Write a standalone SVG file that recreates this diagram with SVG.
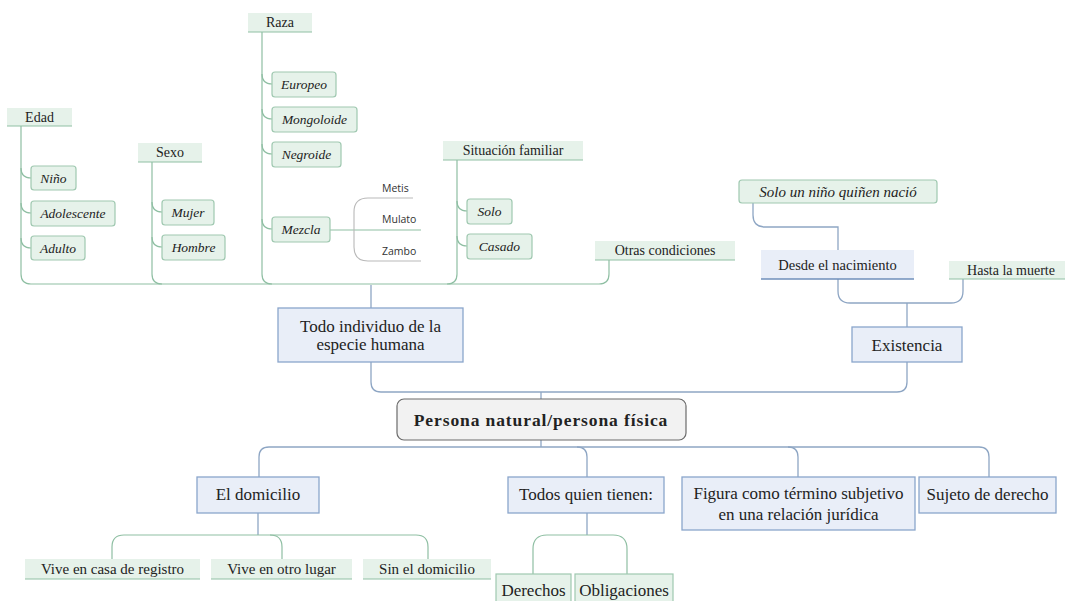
<svg xmlns="http://www.w3.org/2000/svg" width="1065" height="601" viewBox="0 0 1065 601" font-family="'Liberation Serif', 'Times New Roman', serif">
<style>
.hd{font-family:"Liberation Serif","Times New Roman",serif;font-size:14px;text-anchor:middle;fill:#222;}
.hd2{font-family:"Liberation Serif","Times New Roman",serif;font-size:15px;text-anchor:middle;fill:#222;}
.it{font-family:"Liberation Serif","Times New Roman",serif;font-size:13.5px;font-style:italic;text-anchor:middle;fill:#222;}
.sm{font-family:"Open Sans","Noto Sans",sans-serif;font-size:10.5px;fill:#333;}
.big{font-family:"Liberation Serif","Times New Roman",serif;font-size:17px;text-anchor:middle;fill:#222;}
.bold{font-family:"Liberation Serif","Times New Roman",serif;font-size:17.5px;font-weight:bold;text-anchor:middle;letter-spacing:0.9px;fill:#222;}
.gfill{fill:#e6f2ea;}
.gline{stroke:#8fbfa3;stroke-width:1.2;fill:none;}
.gbox{fill:#e6f2ea;stroke:#9fc8b0;stroke-width:1.2;}
.bbox{fill:#e9eef8;stroke:#8aa6cb;stroke-width:1.3;}
.bfill{fill:#e9eef8;}
.bline{stroke:#8ea6c4;stroke-width:1.3;fill:none;}
.cline{stroke:#b9b9b9;stroke-width:1.1;fill:none;}
</style>
<rect width="1065" height="601" fill="#ffffff"/>
<g id="connectors">
<path class="gline" d="M21,126 V274 Q21,284 31,284 H599 Q609,284 609,274 V260"/>
<path class="gline" d="M152,162 V274 Q152,284 162,284"/>
<path class="gline" d="M262,32 V274 Q262,284 272,284"/>
<path class="gline" d="M457,160 V274 Q457,284 447,284"/>
<path class="gline" d="M21,168 Q21,178 31,178"/>
<path class="gline" d="M21,203 Q21,213 31,213"/>
<path class="gline" d="M21,238 Q21,248 31,248"/>
<path class="gline" d="M152,202 Q152,212 162,212"/>
<path class="gline" d="M152,237 Q152,247 162,247"/>
<path class="gline" d="M262,74 Q262,84 272,84"/>
<path class="gline" d="M262,109 Q262,119 272,119"/>
<path class="gline" d="M262,144 Q262,154 272,154"/>
<path class="gline" d="M262,219 Q262,229 272,229"/>
<path class="gline" d="M457,201 Q457,211 467,211"/>
<path class="gline" d="M457,236 Q457,246 467,246"/>
<path class="gline" d="M330,230 H421"/>
<path class="cline" d="M413,198 H368 Q354,198 354,212 V247 Q354,261 368,261 H421"/>
<path class="bline" d="M371,285 V308"/>
<path class="bline" d="M838,250 V227 H765 Q753,227 753,215 V203"/>
<path class="bline" d="M838,279 V291 Q838,303 850,303 H951 Q963,303 963,291 V279"/>
<path class="bline" d="M907,303 V327"/>
<path class="bline" d="M371,362 V382 Q371,392 381,392 H897 Q907,392 907,382 V362"/>
<path class="bline" d="M541,392 V399"/>
<path class="bline" d="M541,440 V447"/>
<path class="bline" d="M259,477 V457 Q259,447 269,447 H979 Q989,447 989,457 V477"/>
<path class="bline" d="M577,447 Q587,447 587,457 V477"/>
<path class="bline" d="M788,447 Q798,447 798,457 V477"/>
<path class="bline" d="M258,513 V535"/>
<path class="gline" d="M112,559 V547 Q112,535 124,535 H416 Q428,535 428,547 V559"/>
<path class="gline" d="M282,559 V547 Q282,535 270,535"/>
<path class="bline" d="M587,513 V535"/>
<path class="gline" d="M533,574 V549 Q533,535 547,535 H613 Q627,535 627,549 V574"/>
</g>
<g id="edad"><rect class="gfill" x="7" y="108" width="65" height="18"/><path class="gline" d="M7,126 H72"/><text class="hd" x="39.5" y="122">Edad</text></g>
<g id="nino"><rect class="gbox" x="31" y="166" width="45" height="24" rx="3"/><text class="it" x="53.5" y="183">Niño</text></g>
<g id="adolescente"><rect class="gbox" x="31" y="201" width="84" height="25" rx="3"/><text class="it" x="73" y="218">Adolescente</text></g>
<g id="adulto"><rect class="gbox" x="31" y="236" width="54" height="24" rx="3"/><text class="it" x="58" y="253">Adulto</text></g>
<g id="sexo"><rect class="gfill" x="138" y="143" width="64" height="19"/><path class="gline" d="M138,162 H202"/><text class="hd" x="170" y="157">Sexo</text></g>
<g id="mujer"><rect class="gbox" x="162" y="200" width="52" height="25" rx="3"/><text class="it" x="188" y="217">Mujer</text></g>
<g id="hombre"><rect class="gbox" x="162" y="235" width="63" height="25" rx="3"/><text class="it" x="193.5" y="252">Hombre</text></g>
<g id="raza"><rect class="gfill" x="248" y="13" width="64" height="19"/><path class="gline" d="M248,32 H312"/><text class="hd" x="280" y="27">Raza</text></g>
<g id="europeo"><rect class="gbox" x="272" y="72" width="64" height="25" rx="3"/><text class="it" x="304" y="89">Europeo</text></g>
<g id="mongoloide"><rect class="gbox" x="272" y="107" width="85" height="25" rx="3"/><text class="it" x="314.5" y="124">Mongoloide</text></g>
<g id="negroide"><rect class="gbox" x="272" y="142" width="69" height="25" rx="3"/><text class="it" x="306.5" y="159">Negroide</text></g>
<g id="mezcla"><rect class="gbox" x="272" y="217" width="58" height="25" rx="3"/><text class="it" x="301" y="234">Mezcla</text></g>
<g id="metis"><text class="sm" x="382" y="192">Metis</text></g>
<g id="mulato"><text class="sm" x="382" y="223">Mulato</text></g>
<g id="zambo"><text class="sm" x="382" y="255">Zambo</text></g>
<g id="situacion"><rect class="gfill" x="443" y="141" width="140" height="19"/><path class="gline" d="M443,160 H583"/><text class="hd" x="513" y="155">Situación familiar</text></g>
<g id="solo"><rect class="gbox" x="467" y="199" width="45" height="25" rx="3"/><text class="it" x="489.5" y="216">Solo</text></g>
<g id="casado"><rect class="gbox" x="467" y="234" width="65" height="25" rx="3"/><text class="it" x="499.5" y="251">Casado</text></g>
<g id="otras"><rect class="gfill" x="595" y="241" width="140" height="19"/><path class="gline" d="M595,260 H735"/><text class="hd" x="665" y="255">Otras condiciones</text></g>
<g id="solonino"><rect class="gbox" x="739" y="180" width="198" height="23" rx="3"/><text class="it" x="838" y="197" style="font-size:15px">Solo un niño quiñen nació</text></g>
<g id="desde"><rect class="bfill" x="761" y="250" width="153" height="29"/><path d="M761,279 H914" stroke="#6f8fbb" stroke-width="1.3"/><text class="hd" x="837.5" y="270" style="font-size:14.5px">Desde el nacimiento</text></g>
<g id="hasta"><rect class="gfill" x="949" y="261" width="116" height="18"/><path class="gline" d="M949,279 H1065"/><text class="hd" x="1011" y="275">Hasta la muerte</text></g>
<g id="existencia"><rect class="bbox" x="852" y="327" width="110" height="35"/><text class="big" x="907" y="351">Existencia</text></g>
<g id="todoindividuo"><rect class="bbox" x="278" y="308" width="185" height="54"/><text class="big" x="370.5" y="332">Todo individuo de la</text><text class="big" x="370.5" y="350">especie humana</text></g>
<g id="persona"><rect x="397" y="399" width="289" height="41" rx="7" fill="#f2f2f2" stroke="#6b6b6b" stroke-width="1.2"/><text class="bold" x="541" y="426">Persona natural/persona física</text></g>
<g id="domicilio"><rect class="bbox" x="197" y="477" width="122" height="36"/><text class="big" x="258" y="500">El domicilio</text></g>
<g id="todos"><rect class="bbox" x="508" y="477" width="156" height="36"/><text class="big" x="586" y="500">Todos quien tienen:</text></g>
<g id="figura"><rect class="bbox" x="682" y="477" width="233" height="53"/><text class="big" x="798.5" y="499">Figura como término subjetivo</text><text class="big" x="798.5" y="520">en una relación jurídica</text></g>
<g id="sujeto"><rect class="bbox" x="919" y="477" width="137" height="36"/><text class="big" x="987.5" y="500">Sujeto de derecho</text></g>
<g id="casaregistro"><rect class="gfill" x="25" y="559" width="175" height="20"/><path class="gline" d="M25,579 H200"/><text class="hd2" x="112.5" y="574">Vive en casa de registro</text></g>
<g id="otrolugar"><rect class="gfill" x="211" y="559" width="141" height="20"/><path class="gline" d="M211,579 H352"/><text class="hd2" x="281.5" y="574">Vive en otro lugar</text></g>
<g id="sindomicilio"><rect class="gfill" x="363" y="559" width="128" height="20"/><path class="gline" d="M363,579 H491"/><text class="hd2" x="427" y="574">Sin el domicilio</text></g>
<g id="derechos"><rect class="gbox" x="496" y="574" width="75" height="30"/><text class="big" x="533.5" y="596">Derechos</text></g>
<g id="obligaciones"><rect class="gbox" x="575" y="574" width="98" height="30"/><text class="big" x="624" y="596">Obligaciones</text></g>
</svg>
